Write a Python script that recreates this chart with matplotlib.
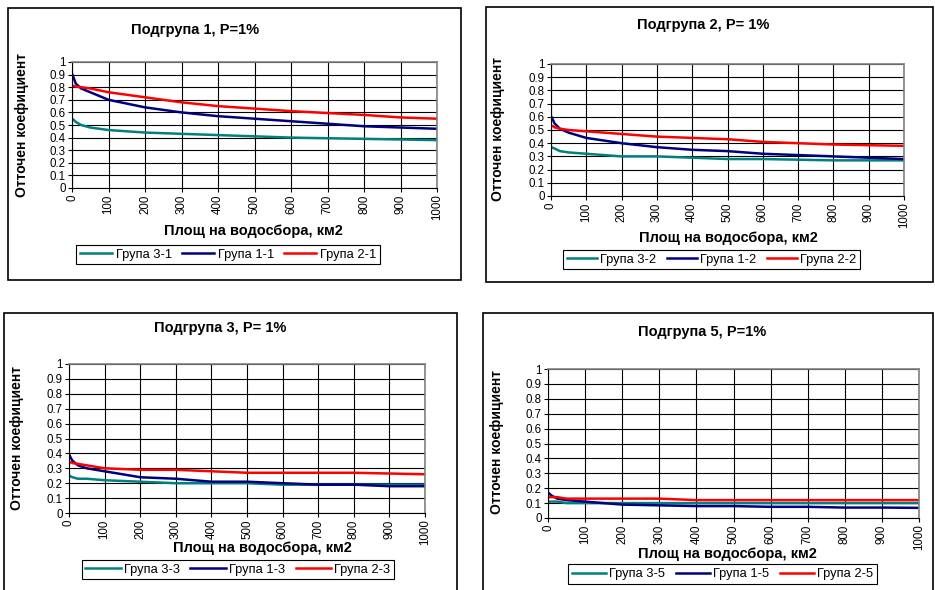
import matplotlib
matplotlib.use('Agg')
import matplotlib.pyplot as plt
from matplotlib.patches import Rectangle

plt.rcParams['font.family'] = ['Liberation Sans', 'DejaVu Sans']

# Area (km2) at which the curves were read
area = [1, 5, 10, 25, 50, 100, 200, 300, 400, 500, 600, 700, 800, 900, 1000]

# Subgroup 1
g31 = [0.55, 0.54, 0.525, 0.50, 0.48, 0.46, 0.44, 0.43, 0.42, 0.41, 0.40, 0.395, 0.39, 0.385, 0.38]
g11 = [0.90, 0.87, 0.83, 0.79, 0.76, 0.70, 0.64, 0.60, 0.57, 0.55, 0.53, 0.51, 0.49, 0.48, 0.47]
g21 = [0.81, 0.81, 0.805, 0.80, 0.79, 0.76, 0.72, 0.68, 0.65, 0.63, 0.61, 0.595, 0.58, 0.56, 0.55]

# Subgroup 2
g32 = [0.37, 0.365, 0.36, 0.34, 0.33, 0.32, 0.30, 0.30, 0.29, 0.28, 0.28, 0.275, 0.27, 0.27, 0.27]
g12 = [0.60, 0.58, 0.55, 0.51, 0.48, 0.44, 0.40, 0.37, 0.35, 0.34, 0.32, 0.31, 0.30, 0.29, 0.28]
g22 = [0.53, 0.53, 0.52, 0.51, 0.50, 0.49, 0.47, 0.45, 0.44, 0.43, 0.41, 0.40, 0.39, 0.385, 0.38]

# Subgroup 3
g33 = [0.25, 0.245, 0.24, 0.23, 0.23, 0.22, 0.21, 0.20, 0.20, 0.20, 0.19, 0.19, 0.19, 0.19, 0.19]
g13 = [0.39, 0.37, 0.35, 0.32, 0.30, 0.28, 0.24, 0.23, 0.21, 0.21, 0.20, 0.19, 0.19, 0.18, 0.18]
g23 = [0.34, 0.34, 0.335, 0.33, 0.32, 0.30, 0.29, 0.29, 0.28, 0.27, 0.27, 0.27, 0.27, 0.265, 0.26]

# Subgroup 5
g35 = [0.11, 0.11, 0.11, 0.11, 0.10, 0.10, 0.10, 0.10, 0.10, 0.10, 0.10, 0.10, 0.10, 0.10, 0.10]
g15 = [0.17, 0.16, 0.15, 0.13, 0.12, 0.11, 0.09, 0.085, 0.08, 0.08, 0.075, 0.075, 0.07, 0.07, 0.068]
g25 = [0.14, 0.14, 0.14, 0.14, 0.13, 0.13, 0.13, 0.13, 0.12, 0.12, 0.12, 0.12, 0.12, 0.12, 0.12]

titles = ['Подгрупа 1, P=1%', 'Подгрупа 2, P= 1%', 'Подгрупа 3, P= 1%', 'Подгрупа 5, P=1%']
suffixes = ['1', '2', '3', '5']
series = [(g31, g11, g21), (g32, g12, g22), (g33, g13, g23), (g35, g15, g25)]
colors = ['#008080', '#000080', '#ff0000']
x_ticks = list(range(0, 1001, 100))
y_ticks = [i / 10 for i in range(11)]
y_labels = ['0', '0.1', '0.2', '0.3', '0.4', '0.5', '0.6', '0.7', '0.8', '0.9', '1']

W, H = 935, 590
fig = plt.figure(figsize=(W / 100, H / 100), dpi=100)

# pixel layout: box, axes, title, ylabel, xlabel, legend centre, legend handle length
layout = [
    dict(box=(8, 8, 461, 280), ax=(72, 62, 437, 188), title=(195, 30), ylab=(22, 125), xlab=(253, 231), leg=(228, 254.5), hl=2.5),
    dict(box=(486, 7, 933, 282), ax=(551, 64, 904, 196), title=(703, 25), ylab=(498, 129), xlab=(728, 238), leg=(711.5, 259.5), hl=2.33),
    dict(box=(4, 313, 457, 600), ax=(69, 364, 425, 513), title=(220, 328), ylab=(17, 438), xlab=(262, 548), leg=(238, 569.5), hl=2.75),
    dict(box=(483, 313, 933, 600), ax=(548, 369, 919, 518), title=(702, 332), ylab=(497, 442), xlab=(727, 554), leg=(722.5, 574), hl=2.65),
]


def fx(px):
    return px / W


def fy(py):
    return 1 - py / H


for k, lay in enumerate(layout):
    x0, y0, x1, y1 = lay['box']
    fig.patches.append(Rectangle((fx(x0), fy(y1)), fx(x1 - x0), (y1 - y0) / H,
                                 transform=fig.transFigure, fill=False,
                                 edgecolor='black', linewidth=1.2))
    a0, b0, a1, b1 = lay['ax']
    ax = fig.add_axes([fx(a0), fy(b1), fx(a1 - a0), (b1 - b0) / H])
    lines = []
    for vals, c, name in zip(series[k], colors, ['Група 3-', 'Група 1-', 'Група 2-']):
        ln, = ax.plot(area, vals, color=c, linewidth=1.8, label=name + suffixes[k])
        lines.append(ln)
    ax.set_xlim(0, 1000)
    ax.set_ylim(0, 1)
    ax.set_xticks(x_ticks)
    ax.set_xticklabels([str(v) for v in x_ticks], rotation=90)
    ax.set_yticks(y_ticks)
    ax.set_yticklabels(y_labels)
    ax.tick_params(labelsize=8.3, direction='out', length=3, width=0.8, pad=1.5)
    ax.grid(True, color='black', linewidth=0.8)
    ax.set_axisbelow(True)
    for s in ['top', 'right']:
        ax.spines[s].set_color('#808080')
        ax.spines[s].set_linewidth(1.2)
    for s in ['left', 'bottom']:
        ax.spines[s].set_color('black')
        ax.spines[s].set_linewidth(0.8)

    fig.text(fx(lay['title'][0]), fy(lay['title'][1]), titles[k], ha='center', va='center',
             fontsize=10.5, fontweight='bold')
    fig.text(fx(lay['ylab'][0]), fy(lay['ylab'][1]), 'Отточен коефициент', ha='center', va='center',
             rotation=90, fontsize=10, fontweight='bold')
    fig.text(fx(lay['xlab'][0]), fy(lay['xlab'][1]), 'Площ на водосбора, км2', ha='center', va='center',
             fontsize=10.5, fontweight='bold')
    leg = fig.legend(handles=lines, loc='center', ncol=3,
                     bbox_to_anchor=(fx(lay['leg'][0]), fy(lay['leg'][1])),
                     fontsize=9.3, handlelength=lay['hl'], handletextpad=0.25, columnspacing=0.8,
                     borderpad=0.3, borderaxespad=0, fancybox=False, edgecolor='black', framealpha=1)
    leg.get_frame().set_linewidth(0.8)

fig.savefig('out.png', dpi=100)
